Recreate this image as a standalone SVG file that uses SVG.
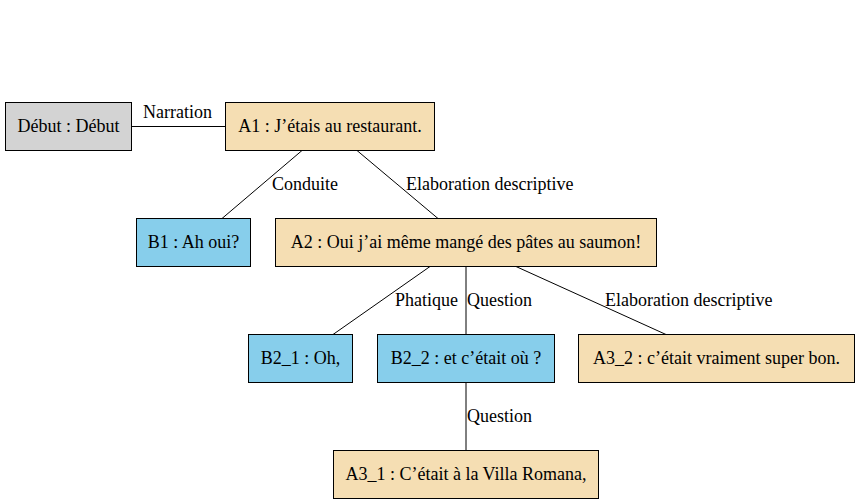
<svg xmlns="http://www.w3.org/2000/svg" width="860" height="504" viewBox="0 0 860 504">
<style>
text { font-family: 'Liberation Serif', 'Times New Roman', Times, 'DejaVu Serif', serif; font-size: 18px; fill: #000; }
.node text { text-anchor: middle; }
.node rect { stroke: #000; stroke-width: 1; }
.grey rect { fill: #d3d3d3; }
.wheat rect { fill: #f5deb3; }
.sky rect { fill: #87ceeb; }
#connectors line { stroke: #000; stroke-width: 1; fill: none; }
</style>
<rect x="0" y="0" width="860" height="504" fill="#ffffff"/>
<g id="connectors">
  <line x1="131.5" y1="126.5" x2="225.5" y2="126.5"/>
  <line x1="302" y1="150.5" x2="222" y2="218.5"/>
  <line x1="357" y1="150.5" x2="438" y2="218.5"/>
  <line x1="430" y1="266.5" x2="333" y2="334.5"/>
  <line x1="466" y1="266.5" x2="466" y2="334.5"/>
  <line x1="516" y1="266.5" x2="666" y2="334.5"/>
  <line x1="466" y1="382.5" x2="466" y2="450.5"/>
  <text x="143" y="118" font-family="Liberation Serif, serif">Narration</text>
  <text x="272" y="190" font-family="Liberation Serif, serif">Conduite</text>
  <text x="406" y="190" font-family="Liberation Serif, serif">Elaboration descriptive</text>
  <text x="395" y="306" font-family="Liberation Serif, serif">Phatique</text>
  <text x="467" y="306" font-family="Liberation Serif, serif">Question</text>
  <text x="605" y="306" font-family="Liberation Serif, serif">Elaboration descriptive</text>
  <text x="467" y="422" font-family="Liberation Serif, serif">Question</text>
</g>
<g id="debut" class="node grey">
  <rect x="5.5" y="102.5" width="126" height="48"/>
  <text x="68.5" y="132" font-family="Liberation Serif, serif">Début : Début</text>
</g>
<g id="A1" class="node wheat">
  <rect x="225.5" y="102.5" width="209" height="48"/>
  <text x="330" y="132" font-family="Liberation Serif, serif">A1 : J’étais au restaurant.</text>
</g>
<g id="B1" class="node sky">
  <rect x="136.5" y="218.5" width="114" height="48"/>
  <text x="193.5" y="248" font-family="Liberation Serif, serif">B1 : Ah oui?</text>
</g>
<g id="A2" class="node wheat">
  <rect x="275.5" y="218.5" width="381" height="48"/>
  <text x="466" y="248" font-family="Liberation Serif, serif">A2 : Oui j’ai même mangé des pâtes au saumon!</text>
</g>
<g id="B2_1" class="node sky">
  <rect x="248.5" y="334.5" width="104" height="48"/>
  <text x="300.5" y="364" font-family="Liberation Serif, serif">B2_1 : Oh,</text>
</g>
<g id="B2_2" class="node sky">
  <rect x="377.5" y="334.5" width="177" height="48"/>
  <text x="466" y="364" font-family="Liberation Serif, serif">B2_2 : et c’était où ?</text>
</g>
<g id="A3_2" class="node wheat">
  <rect x="578.5" y="334.5" width="276" height="48"/>
  <text x="716.5" y="364" font-family="Liberation Serif, serif">A3_2 : c’était vraiment super bon.</text>
</g>
<g id="A3_1" class="node wheat">
  <rect x="333.5" y="450.5" width="265" height="48"/>
  <text x="466" y="480" font-family="Liberation Serif, serif">A3_1 : C’était à la Villa Romana,</text>
</g>
</svg>
